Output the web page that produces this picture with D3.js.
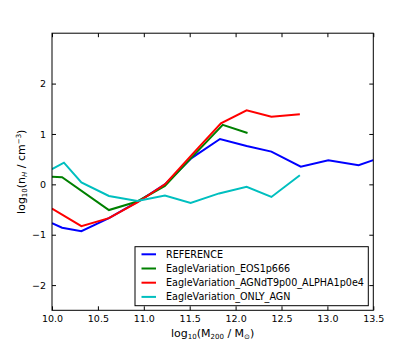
<!DOCTYPE html>
<html><head><meta charset="utf-8">
<script src="https://cdn.jsdelivr.net/npm/d3@7/dist/d3.min.js"></script>
<style>body{margin:0;background:#fff}svg{display:block}text{font-family:"DejaVu Sans",sans-serif}</style>
</head><body><svg id="c" width="415" height="346"></svg>
<script>
const xTicks = [10.0, 10.5, 11.0, 11.5, 12.0, 12.5, 13.0, 13.5];
const yTicks = [-2, -1, 0, 1, 2];
const seriesNames = ["REFERENCE", "EagleVariation_EOS1p666", "EagleVariation_AGNdT9p00_ALPHA1p0e4", "EagleVariation_ONLY_AGN"];
const seriesColors = ["#0000ff", "#008000", "#ff0000", "#00bfbf"];
const refX = [10.0, 10.11, 10.32, 10.62, 10.93, 11.23, 11.52, 11.83, 12.12, 12.39, 12.71, 13.01, 13.34, 13.5];
const refY = [-0.77, -0.86, -0.93, -0.67, -0.35, 0.0, 0.52, 0.90, 0.76, 0.65, 0.35, 0.48, 0.38, 0.48];
const eosX = [10.0, 10.11, 10.62, 10.93, 11.23, 11.53, 11.86, 12.13];
const eosY = [0.15, 0.14, -0.51, -0.34, -0.03, 0.55, 1.18, 1.02];
const agnX = [10.0, 10.32, 10.62, 10.93, 11.23, 11.53, 11.84, 12.12, 12.39, 12.70];
const agnY = [-0.48, -0.83, -0.67, -0.36, 0.0, 0.60, 1.21, 1.47, 1.34, 1.39];
const onlyX = [10.0, 10.13, 10.32, 10.62, 10.93, 11.23, 11.51, 11.82, 12.12, 12.39, 12.70];
const onlyY = [0.30, 0.43, 0.04, -0.23, -0.33, -0.22, -0.37, -0.18, -0.05, -0.25, 0.18];

const svg = d3.select("#c");
const L = 52, R = 373.3, T = 33.2, B = 310.3;
const x = d3.scaleLinear().domain([10, 13.5]).range([L, R]);
const y = d3.scaleLinear().domain([-2.5, 3]).range([B, T]);

svg.append("clipPath").attr("id","clip").append("rect").attr("x",L).attr("y",T).attr("width",R-L).attr("height",B-T);

const allSeries = [[refX, refY], [eosX, eosY], [agnX, agnY], [onlyX, onlyY]];
const line = d3.line().x(d => x(d[0])).y(d => y(d[1]));
const g = svg.append("g").attr("clip-path","url(#clip)");
allSeries.forEach((s, i) => {
  const pts = s[0].map((v, j) => [v, s[1][j]]);
  g.append("path").attr("d", line(pts)).attr("fill","none").attr("stroke", seriesColors[i]).attr("stroke-width", 2).attr("stroke-linejoin","miter");
});

const fmtMinus = v => (v < 0 ? "\u2212" + Math.abs(v) : String(v));
const ax = svg.append("g").attr("transform", `translate(0,${B})`).call(d3.axisBottom(x).tickValues(xTicks).tickFormat(d3.format(".1f")).tickSizeInner(-4).tickSizeOuter(0).tickPadding(5));
const axT = svg.append("g").attr("transform", `translate(0,${T})`).call(d3.axisTop(x).tickValues(xTicks).tickFormat("").tickSizeInner(-4).tickSizeOuter(0));
const ay = svg.append("g").attr("transform", `translate(${L},0)`).call(d3.axisLeft(y).tickValues(yTicks).tickFormat(fmtMinus).tickSizeInner(-4).tickSizeOuter(0).tickPadding(6));
const ayR = svg.append("g").attr("transform", `translate(${R},0)`).call(d3.axisRight(y).tickValues(yTicks).tickFormat("").tickSizeInner(-4).tickSizeOuter(0));
[ax, axT, ay, ayR].forEach(a => { a.select(".domain").remove(); a.selectAll("line").attr("stroke","#000"); a.selectAll("text").attr("font-size", 9.5).attr("fill","#000").attr("font-family","DejaVu Sans"); });
svg.append("rect").attr("x",L).attr("y",T).attr("width",R-L).attr("height",B-T).attr("fill","none").attr("stroke","#000").attr("stroke-width",1);

const xl = svg.append("text").attr("x", (L+R)/2).attr("y", 337).attr("text-anchor","middle").attr("font-size", 11);
xl.append("tspan").text("log");
xl.append("tspan").attr("font-size", 7).attr("dy", 2).text("10");
xl.append("tspan").attr("dy", -2).text("(M");
xl.append("tspan").attr("font-size", 7).attr("dy", 2).text("200");
xl.append("tspan").attr("dy", -2).text(" / M");
xl.append("tspan").attr("font-size", 7).attr("dy", 2).text("\u2299");
xl.append("tspan").attr("dy", -2).text(")");

const yl = svg.append("text").attr("transform", `translate(25,${(T+B)/2}) rotate(-90)`).attr("text-anchor","middle").attr("font-size", 11);
yl.append("tspan").text("log");
yl.append("tspan").attr("font-size", 7).attr("dy", 2).text("10");
yl.append("tspan").attr("dy", -2).text("(n");
yl.append("tspan").attr("font-size", 7).attr("dy", 2).attr("font-style","italic").text("H");
yl.append("tspan").attr("dy", -2).text(" / cm");
yl.append("tspan").attr("font-size", 7).attr("dy", -4).text("\u22123");
yl.append("tspan").attr("dy", 4).text(")");

const lg = svg.append("g");
lg.append("rect").attr("x", 135).attr("y", 246.7).attr("width", 233.3).attr("height", 59).attr("fill","#fff").attr("stroke","#000").attr("stroke-width",1);
seriesNames.forEach((n, i) => {
  const yy = 254.3 + i * 14.2;
  lg.append("line").attr("x1", 141.5).attr("x2", 156).attr("y1", yy).attr("y2", yy).attr("stroke", seriesColors[i]).attr("stroke-width", 2);
  lg.append("text").attr("x", 166).attr("y", yy + 3.4).attr("font-size", 9.6).text(n);
});
</script></body></html>
